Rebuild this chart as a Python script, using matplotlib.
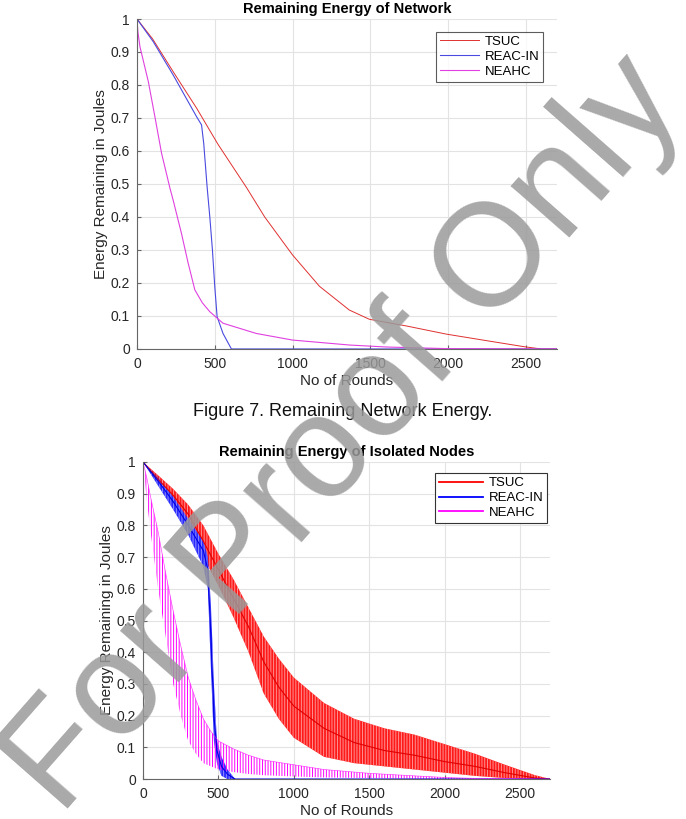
import numpy as np
import matplotlib.pyplot as plt
from matplotlib.lines import Line2D

plt.rcParams['font.family'] = ['Liberation Sans', 'DejaVu Sans']
plt.rcParams['hatch.linewidth'] = 0.7

# ---- Remaining Energy of Network (averaged) ----
tsuc_r = [0, 100, 233, 383, 521, 703, 821, 1000, 1173, 1365, 1494, 1729, 1989, 2250, 2487, 2600, 2700]
tsuc_e = [1.0, 0.94, 0.84, 0.73, 0.62, 0.49, 0.40, 0.285, 0.19, 0.118, 0.09, 0.07, 0.045, 0.025, 0.007, 0.0, 0.0]

reac_r = [0, 105, 233, 383, 415, 429, 451, 468, 485, 500, 515, 553, 607, 2700]
reac_e = [1.0, 0.931, 0.83, 0.704, 0.679, 0.623, 0.49, 0.401, 0.30, 0.189, 0.098, 0.047, 0.0, 0.0]

neahc_r = [0, 6, 19, 73, 115, 158, 212, 233, 286, 329, 372, 420, 468, 553, 767, 1000, 1365, 1600, 2000, 2700]
neahc_e = [1.0, 0.96, 0.916, 0.81, 0.704, 0.593, 0.487, 0.45, 0.35, 0.26, 0.179, 0.14, 0.113, 0.078, 0.047, 0.027, 0.012, 0.006, 0.001, 0.0]

# ---- Remaining Energy of Isolated Nodes (band: upper / centre / lower) ----
iso_tsuc_r = [0, 100, 200, 300, 400, 500, 600, 700, 800, 900, 1000, 1200, 1400, 1600, 1800, 2000, 2200, 2400, 2600, 2700]
iso_tsuc_hi = [1.0, 0.958, 0.915, 0.865, 0.80, 0.71, 0.63, 0.54, 0.45, 0.38, 0.32, 0.24, 0.19, 0.16, 0.14, 0.11, 0.08, 0.045, 0.012, 0.0]
iso_tsuc_mid = [1.0, 0.945, 0.895, 0.835, 0.75, 0.66, 0.57, 0.48, 0.37, 0.29, 0.23, 0.16, 0.115, 0.09, 0.075, 0.055, 0.04, 0.02, 0.003, 0.0]
iso_tsuc_lo = [1.0, 0.932, 0.87, 0.80, 0.70, 0.61, 0.51, 0.40, 0.27, 0.19, 0.13, 0.07, 0.05, 0.04, 0.03, 0.02, 0.01, 0.003, 0.0, 0.0]

iso_reac_r = [0, 100, 200, 300, 400, 430, 450, 470, 490, 520, 560, 610, 2700]
iso_reac_hi = [1.0, 0.95, 0.89, 0.82, 0.75, 0.70, 0.55, 0.30, 0.12, 0.07, 0.03, 0.0, 0.0]
iso_reac_mid = [1.0, 0.94, 0.875, 0.80, 0.72, 0.66, 0.45, 0.20, 0.09, 0.04, 0.015, 0.0, 0.0]
iso_reac_lo = [1.0, 0.925, 0.85, 0.77, 0.67, 0.60, 0.35, 0.12, 0.05, 0.01, 0.0, 0.0, 0.0]

iso_neahc_r = [0, 25, 50, 100, 150, 200, 250, 300, 350, 400, 450, 500, 600, 700, 800, 1000, 1200, 1500, 1800, 2000, 2200, 2700]
iso_neahc_hi = [1.0, 0.95, 0.89, 0.78, 0.65, 0.53, 0.42, 0.32, 0.25, 0.19, 0.15, 0.12, 0.095, 0.075, 0.06, 0.045, 0.03, 0.018, 0.01, 0.005, 0.002, 0.0]
iso_neahc_lo = [1.0, 0.88, 0.78, 0.60, 0.45, 0.30, 0.20, 0.12, 0.08, 0.05, 0.04, 0.03, 0.022, 0.016, 0.012, 0.008, 0.005, 0.003, 0.001, 0.0, 0.0, 0.0]

names = ["TSUC", "REAC-IN", "NEAHC"]
yticks = np.arange(0, 1.01, 0.1)
ylabs = ["0", "0.1", "0.2", "0.3", "0.4", "0.5", "0.6", "0.7", "0.8", "0.9", "1"]
xticks = [0, 500, 1000, 1500, 2000, 2500]


def style_ax(ax, title):
    ax.set_xlim(0, 2700)
    ax.set_ylim(0, 1)
    ax.set_xticks(xticks)
    ax.set_xticklabels([str(t) for t in xticks])
    ax.set_yticks(yticks)
    ax.set_yticklabels(ylabs)
    ax.grid(True, color='#e3e3e3', linewidth=0.8)
    ax.set_axisbelow(True)
    for s in ['top', 'right']:
        ax.spines[s].set_visible(False)
    for s in ['left', 'bottom']:
        ax.spines[s].set_color('#666666')
        ax.spines[s].set_linewidth(0.8)
    ax.tick_params(direction='in', length=3, colors='#666666', labelcolor='#262626', labelsize=10)
    ax.tick_params(axis='x', pad=6)
    ax.tick_params(axis='y', pad=5)
    ax.set_title(title, fontsize=10.5, fontweight='bold', pad=4)
    ax.set_xlabel("No of Rounds", fontsize=11, color='#262626', labelpad=2)
    ax.set_ylabel("Energy Remaining in Joules", fontsize=11, color='#262626', labelpad=2)


fig = plt.figure(figsize=(6.86, 8.19), dpi=100)

ax1 = fig.add_axes([0.1997, 0.5739, 0.6122, 0.4029])
ax1.plot(tsuc_r, tsuc_e, color='#e03030', lw=0.7, label=names[0])
ax1.plot(reac_r, reac_e, color='#4a4ae0', lw=0.8, label=names[1])
ax1.plot(neahc_r, neahc_e, color='#e040e0', lw=0.8, label=names[2])
style_ax(ax1, "Remaining Energy of Network")
leg1 = ax1.legend(loc='upper right', bbox_to_anchor=(0.967, 0.961), fontsize=9.5, frameon=True,
                  fancybox=False, edgecolor='#333333', handlelength=3.0, borderpad=0.3,
                  labelspacing=0.2, handletextpad=0.4, borderaxespad=0)
leg1.get_frame().set_linewidth(0.8)

ax2 = fig.add_axes([0.2085, 0.0488, 0.5936, 0.3871])
ax2.fill_between(iso_tsuc_r, iso_tsuc_lo, iso_tsuc_hi, facecolor='#ff1a1a', edgecolor='#ff9090',
                 hatch='||||||', lw=0)
ax2.plot(iso_tsuc_r, iso_tsuc_mid, color='#e00000', lw=0.8)
ax2.fill_between(iso_reac_r, iso_reac_lo, iso_reac_hi, facecolor='#2a2aff', edgecolor='#9090ff',
                 hatch='||||||', lw=0)
ax2.plot(iso_reac_r, iso_reac_mid, color='#0000e0', lw=0.8)
ax2.fill_between(iso_neahc_r, iso_neahc_lo, iso_neahc_hi, facecolor='none', edgecolor='#ff00ff',
                 hatch='||||||', lw=0)
ax2.plot(iso_neahc_r, iso_neahc_hi, color='#ff00ff', lw=0.5, alpha=0.7)
style_ax(ax2, "Remaining Energy of Isolated Nodes")
handles = [Line2D([0], [0], color='#ff0000', lw=1.3),
           Line2D([0], [0], color='#0000ff', lw=1.3),
           Line2D([0], [0], color='#ff00ff', lw=1.3)]
leg2 = ax2.legend(handles, names, loc='upper right', bbox_to_anchor=(0.993, 0.965), fontsize=9.5,
                  frameon=True, fancybox=False, edgecolor='#333333', handlelength=3.4,
                  borderpad=0.3, labelspacing=0.2, handletextpad=0.4, framealpha=1,
                  borderaxespad=0)
leg2.get_frame().set_linewidth(0.8)

fig.text(0.5, 1 - 412 / 819, "Figure 7. Remaining Network Energy.", ha='center', va='center',
         fontsize=13, color='#111111')

# watermark
fig.text(0.503, 0.468, "For Proof Only", ha='center', va='center', rotation=48.7,
         fontsize=105, color='#9a9a9a', alpha=0.85, zorder=10)

fig.savefig("out.png", dpi=100)
